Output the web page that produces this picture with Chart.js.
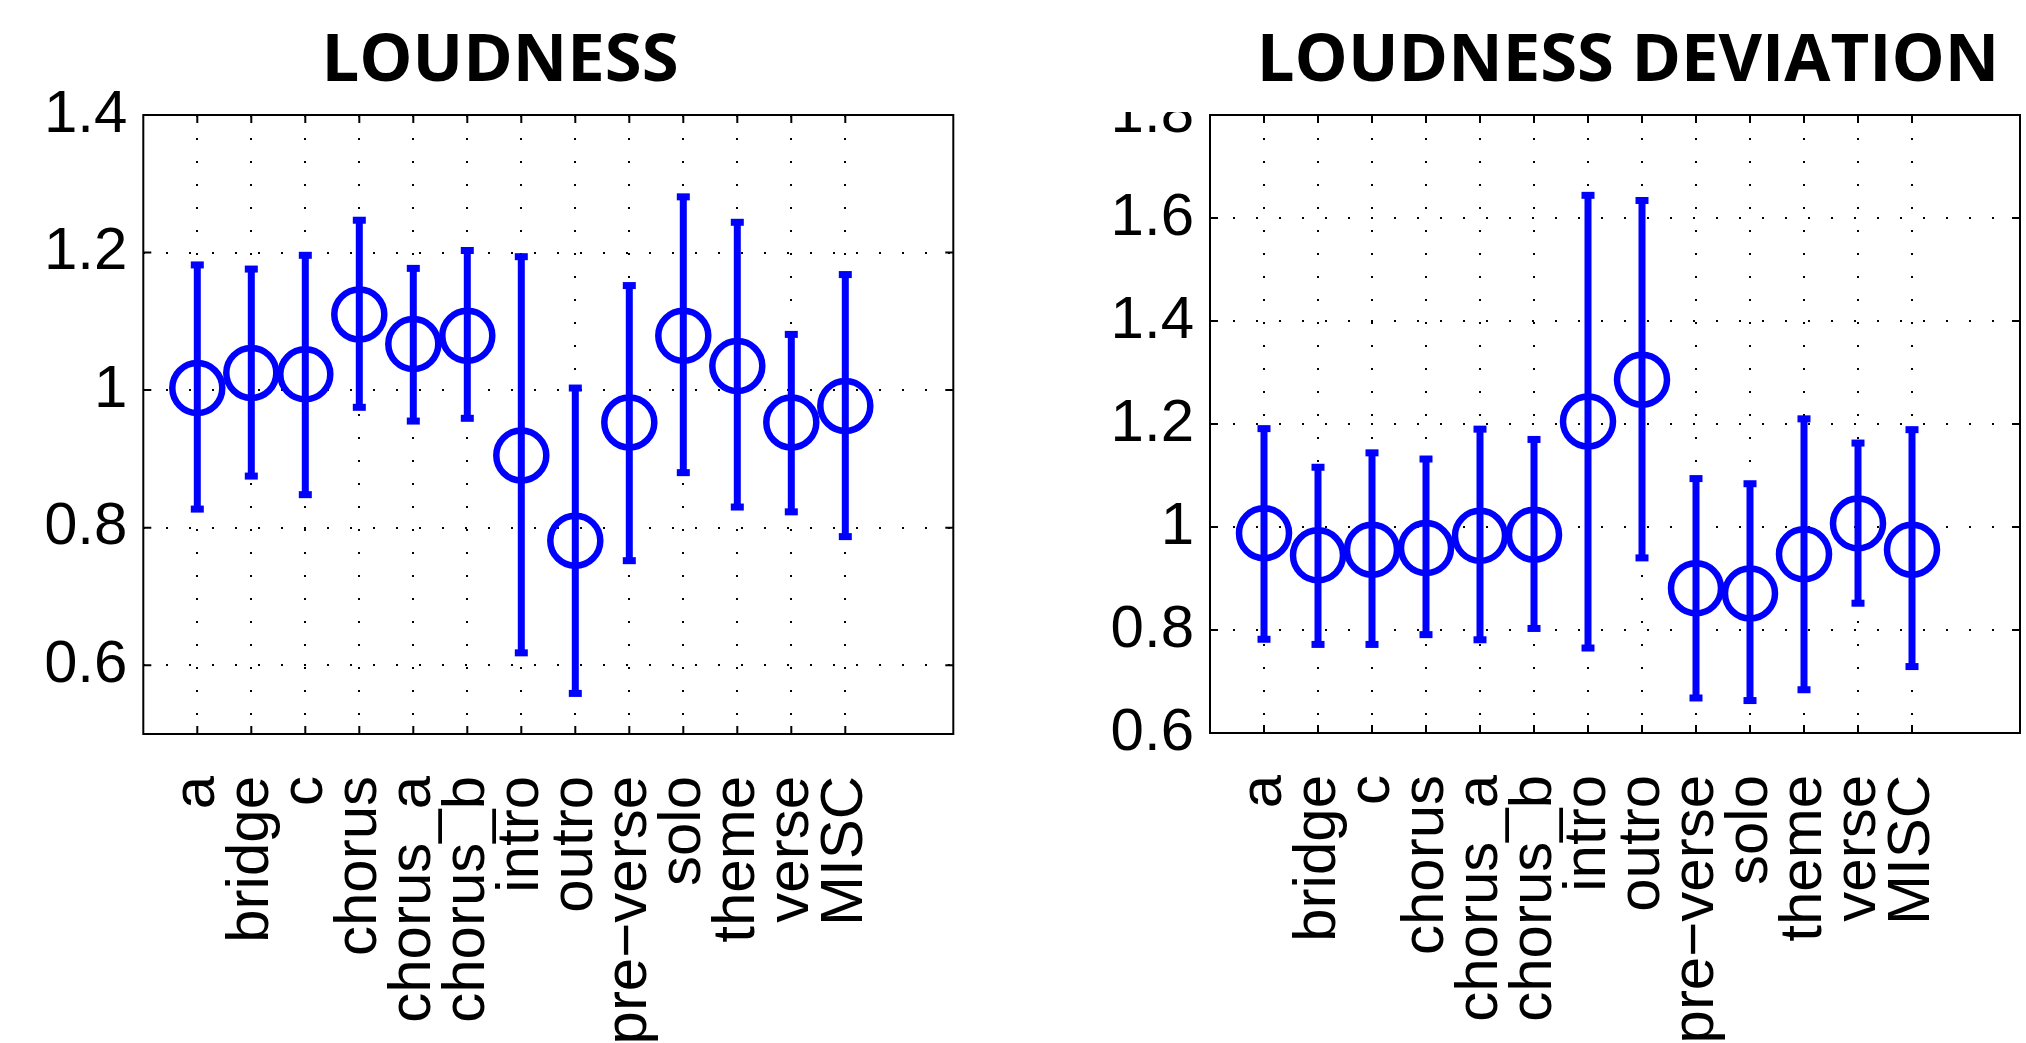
<!DOCTYPE html>
<html>
<head>
<meta charset="utf-8">
<script src="https://cdn.jsdelivr.net/npm/chart.js@4/dist/chart.umd.min.js"></script>
<style>
html, body { margin: 0; padding: 0; background: #fff; overflow: hidden; width: 2026px; height: 1043px; }
canvas { position: absolute; top: 0; }
#loud { left: 0; }
#dev { left: 1000px; }
</style>
</head>
<body>
<canvas id="loud" width="1000" height="1043"></canvas>
<canvas id="dev" width="1256" height="1043"></canvas>
<script>
// ---- data ----
const categories = ['a', 'bridge', 'c', 'chorus', 'chorus_a', 'chorus_b', 'intro', 'outro', 'pre\u2212verse', 'solo', 'theme', 'verse', 'MISC'];

const loudnessMean = [1.003, 1.025, 1.023, 1.110, 1.067, 1.079, 0.905, 0.781, 0.953, 1.079, 1.035, 0.953, 0.977];
const loudnessLow  = [0.827, 0.875, 0.848, 0.975, 0.955, 0.959, 0.618, 0.559, 0.752, 0.880, 0.830, 0.823, 0.787];
const loudnessHigh = [1.182, 1.176, 1.196, 1.247, 1.177, 1.203, 1.194, 1.003, 1.152, 1.281, 1.244, 1.081, 1.168];

const deviationMean = [0.988, 0.945, 0.956, 0.959, 0.983, 0.985, 1.205, 1.286, 0.881, 0.871, 0.947, 1.007, 0.956];
const deviationLow  = [0.782, 0.772, 0.772, 0.791, 0.781, 0.803, 0.765, 0.940, 0.668, 0.663, 0.684, 0.852, 0.729];
const deviationHigh = [1.191, 1.116, 1.144, 1.132, 1.190, 1.170, 1.644, 1.634, 1.094, 1.084, 1.210, 1.163, 1.189];

const loudnessTicks  = [0.6, 0.8, 1, 1.2, 1.4];
const deviationTicks = [0.6, 0.8, 1, 1.2, 1.4, 1.6, 1.8];

// ---- drawing helpers ----
const BLUE = '#0000ff';

const matlabAxes = {
  id: 'matlabAxes',
  beforeDatasetsDraw(chart, args, opts) {
    const ctx = chart.ctx, xs = chart.scales.x, ys = chart.scales.y;
    ctx.save();
    ctx.strokeStyle = BLUE;
    ctx.fillStyle = BLUE;
    ctx.lineWidth = 7;
    ctx.lineCap = 'butt';
    opts.low.forEach((lo, i) => {
      const x = xs.getPixelForValue(i + 1);
      const yl = ys.getPixelForValue(lo);
      const yh = ys.getPixelForValue(opts.high[i]);
      ctx.beginPath();
      ctx.moveTo(x, yh);
      ctx.lineTo(x, yl);
      ctx.stroke();
      ctx.fillRect(x - 6.5, yh - 3.5, 13, 7);
      ctx.fillRect(x - 6.5, yl - 3.5, 13, 7);
    });
    ctx.restore();
  },
  afterDraw(chart, args, opts) {
    const ctx = chart.ctx, a = chart.chartArea, xs = chart.scales.x, ys = chart.scales.y;
    ctx.save();
    ctx.strokeStyle = '#000';
    ctx.lineWidth = 2;
    ctx.strokeRect(a.left, a.top, a.right - a.left, a.bottom - a.top);
    const tl = 8;
    ctx.beginPath();
    xs.ticks.forEach(t => {
      const x = xs.getPixelForValue(t.value);
      ctx.moveTo(x, a.bottom); ctx.lineTo(x, a.bottom - tl);
      ctx.moveTo(x, a.top); ctx.lineTo(x, a.top + tl);
    });
    ys.ticks.forEach(t => {
      const y = ys.getPixelForValue(t.value);
      ctx.moveTo(a.left, y); ctx.lineTo(a.left + tl, y);
      ctx.moveTo(a.right, y); ctx.lineTo(a.right - tl, y);
    });
    ctx.stroke();
    if (opts.mask) {
      ctx.fillStyle = '#fff';
      ctx.fillRect(opts.mask.x0, 0, opts.mask.x1 - opts.mask.x0, opts.mask.y);
    }
    ctx.restore();
  }
};

function makeChart(canvas, cfg) {
  const scales = {
    x: {
      type: 'linear', min: 0, max: 15,
      afterBuildTicks: s => { s.ticks = categories.map((c, i) => ({ value: i + 1 })); },
      afterFit: s => { s.height = cfg.xHeight; },
      ticks: {
        autoSkip: false, minRotation: 90, maxRotation: 90, padding: 42, color: '#000',
        font: { family: 'Liberation Sans', size: 60 },
        callback: v => categories[v - 1]
      },
      grid: { drawTicks: false, color: '#000', lineWidth: 2, borderDash: [2, 21] },
      border: { display: false, dash: [2, 21] }
    },
    y: {
      type: 'linear', min: cfg.ymin, max: cfg.ymax,
      afterBuildTicks: s => { s.ticks = cfg.yTicks.map(v => ({ value: v })); },
      afterFit: s => { s.width = cfg.yWidth; },
      ticks: {
        padding: 16, color: '#000',
        font: { family: 'Liberation Sans', size: 60 },
        callback: v => String(Math.round(v * 10) / 10)
      },
      grid: { drawTicks: false, color: '#000', lineWidth: 2, borderDash: [2, 21] },
      border: { display: false, dash: [2, 21] }
    }
  };
  if (cfg.rightSpace) {
    scales.spacer = {
      type: 'linear', position: 'right', display: true,
      grid: { display: false, drawTicks: false }, border: { display: false },
      ticks: { display: false },
      afterFit: s => { s.width = cfg.rightSpace; }
    };
  }
  return new Chart(canvas, {
    type: 'line',
    data: {
      datasets: [{
        data: cfg.mean.map((v, i) => ({ x: i + 1, y: v })),
        showLine: false,
        pointStyle: 'circle',
        pointRadius: 25, pointHoverRadius: 25,
        pointBorderWidth: 6.5,
        pointBorderColor: BLUE, borderColor: BLUE,
        pointBackgroundColor: 'rgba(0,0,0,0)',
        clip: false
      }]
    },
    options: {
      responsive: false, animation: false, devicePixelRatio: 1, events: [],
      layout: { padding: { left: cfg.padL, right: cfg.padR, top: 0, bottom: 0 } },
      plugins: {
        legend: { display: false },
        tooltip: { enabled: false },
        title: {
          display: true, text: cfg.title, color: '#000',
          font: { family: 'Open Sans', weight: 'bold', size: 67, lineHeight: 1 },
          padding: { top: 28, bottom: 20 }
        },
        matlabAxes: { low: cfg.low, high: cfg.high, mask: cfg.mask }
      },
      scales
    },
    plugins: [matlabAxes]
  });
}

makeChart(document.getElementById('loud'), {
  title: 'LOUDNESS',
  mean: loudnessMean, low: loudnessLow, high: loudnessHigh,
  ymin: 0.5, ymax: 1.4, yTicks: loudnessTicks,
  padL: 46.7, padR: 46.7, yWidth: 96.6, xHeight: 309
});

makeChart(document.getElementById('dev'), {
  title: 'LOUDNESS DEVIATION',
  mean: deviationMean, low: deviationLow, high: deviationHigh,
  ymin: 0.6, ymax: 1.8, yTicks: deviationTicks,
  padL: 0, padR: 0, yWidth: 210, xHeight: 310, rightSpace: 236,
  mask: { x0: 90, x1: 205, y: 112 }
});
</script>
</body>
</html>
